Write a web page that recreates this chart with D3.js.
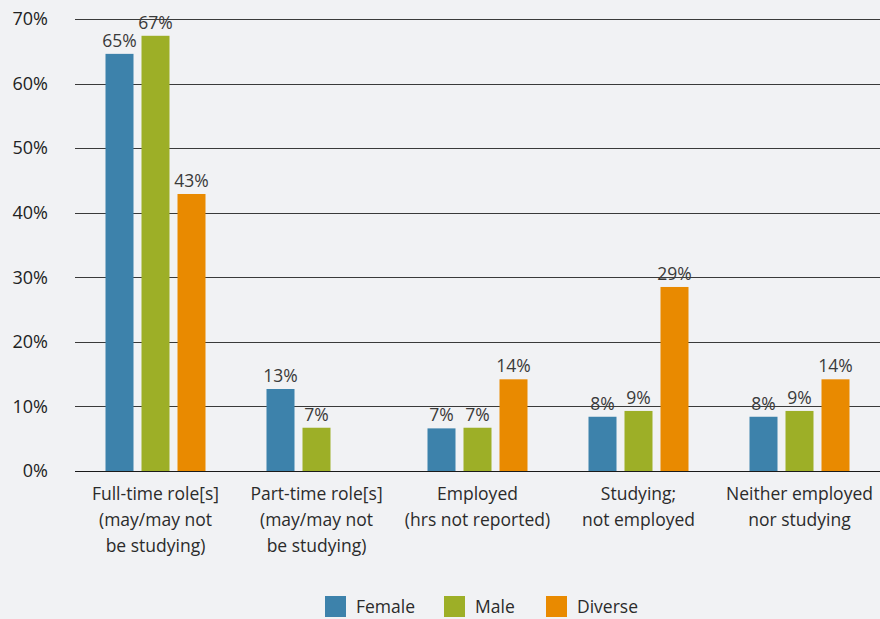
<!DOCTYPE html>
<html>
<head>
<meta charset="utf-8">
<script src="https://cdn.jsdelivr.net/npm/d3@7"></script>
<style>
  html, body { margin: 0; padding: 0; background: #f1f2f4; }
  svg { display: block; font-family: "Open Sans", "Noto Sans", sans-serif; }
</style>
</head>
<body>
<svg id="chart" width="880" height="619"></svg>
<script>
// Employment status by gender (share of respondents, %)
const categories = [
  ["Full-time role[s]", "(may/may not", "be studying)"],
  ["Part-time role[s]", "(may/may not", "be studying)"],
  ["Employed", "(hrs not reported)"],
  ["Studying;", "not employed"],
  ["Neither employed", "nor studying"]
];
const seriesNames = ["Female", "Male", "Diverse"];
const female  = [64.6, 12.7, 6.6, 8.4, 8.4];
const male    = [67.4, 6.7, 6.7, 9.3, 9.3];
const diverse = [42.9, null, 14.2, 28.5, 14.2];
const yTicks = [0, 10, 20, 30, 40, 50, 60, 70];
const colors = ["#3d82ab", "#9daf27", "#e98a00"];

const series = [female, male, diverse];
const svg = d3.select("#chart");

const plot = { left: 75, right: 880, top: 19, bottom: 471 };

const x = d3.scaleBand()
  .domain(d3.range(categories.length))
  .range([plot.left, plot.right]);

const xInner = d3.scaleBand()
  .domain(seriesNames)
  .range([0, 100])
  .paddingInner(0.2222);

const y = d3.scaleLinear().domain([0, 70]).range([plot.bottom, plot.top]);

// Horizontal gridlines
svg.append("g")
  .selectAll("line")
  .data(yTicks)
  .join("line")
  .attr("x1", plot.left)
  .attr("x2", plot.right)
  .attr("y1", d => Math.round(y(d)) + 0.5)
  .attr("y2", d => Math.round(y(d)) + 0.5)
  .attr("stroke", "#3a3a3a")
  .attr("stroke-width", 1.2);

// Y axis labels
const yAxis = d3.axisLeft(y)
  .tickValues(yTicks)
  .tickFormat(d => d + "%")
  .tickSize(0)
  .tickPadding(0);
const yg = svg.append("g")
  .attr("transform", `translate(48,0)`)
  .call(yAxis);
yg.select(".domain").remove();
yg.selectAll("text")
  .attr("font-size", 18)
  .attr("fill", "#222")
  .attr("font-family", "'Open Sans', sans-serif");

// Bars
const groups = svg.append("g")
  .selectAll("g")
  .data(categories.map((c, i) => i))
  .join("g")
  .attr("transform", i => `translate(${x(i) + x.bandwidth() / 2 - 50},0)`);

const fmt = v => d3.format(".0f")(v) + "%";

groups.each(function(i) {
  const g = d3.select(this);
  const items = seriesNames
    .map((name, k) => ({ name, value: series[k][i], color: colors[k] }))
    .filter(d => d.value != null);
  g.selectAll("rect")
    .data(items)
    .join("rect")
    .attr("x", d => xInner(d.name))
    .attr("width", xInner.bandwidth())
    .attr("y", d => y(d.value))
    .attr("height", d => y(0) - y(d.value))
    .attr("fill", d => d.color);
  g.selectAll("text.value")
    .data(items)
    .join("text")
    .attr("class", "value")
    .attr("x", d => xInner(d.name) + xInner.bandwidth() / 2)
    .attr("y", d => y(d.value) - 7)
    .attr("text-anchor", "middle")
    .attr("font-size", 17.5)
    .attr("fill", "#3a3a3a")
    .text(d => fmt(d.value));
});

// Baseline drawn over bars
svg.append("line")
  .attr("x1", plot.left).attr("x2", plot.right)
  .attr("y1", Math.round(y(0)) + 0.5).attr("y2", Math.round(y(0)) + 0.5)
  .attr("stroke", "#1a1a1a").attr("stroke-width", 1.2);

// Category labels
const xl = svg.append("g")
  .selectAll("text")
  .data(categories)
  .join("text")
  .attr("x", (d, i) => x(i) + x.bandwidth() / 2)
  .attr("y", 500)
  .attr("text-anchor", "middle")
  .attr("font-size", 17.5)
  .attr("fill", "#2b2b2b");
xl.selectAll("tspan")
  .data(d => d)
  .join("tspan")
  .attr("x", function() { return d3.select(this.parentNode).attr("x"); })
  .attr("dy", (d, j) => j === 0 ? 0 : 26)
  .text(d => d);

// Legend
const legendX = [325, 444, 546];
const legend = svg.append("g")
  .selectAll("g")
  .data(seriesNames)
  .join("g")
  .attr("transform", (d, k) => `translate(${legendX[k]},596)`);
legend.append("rect")
  .attr("width", 21).attr("height", 21)
  .attr("fill", (d, k) => colors[k]);
legend.append("text")
  .attr("x", 31).attr("y", 17)
  .attr("font-size", 17.5)
  .attr("fill", "#2b2b2b")
  .text(d => d);
</script>
</body>
</html>
